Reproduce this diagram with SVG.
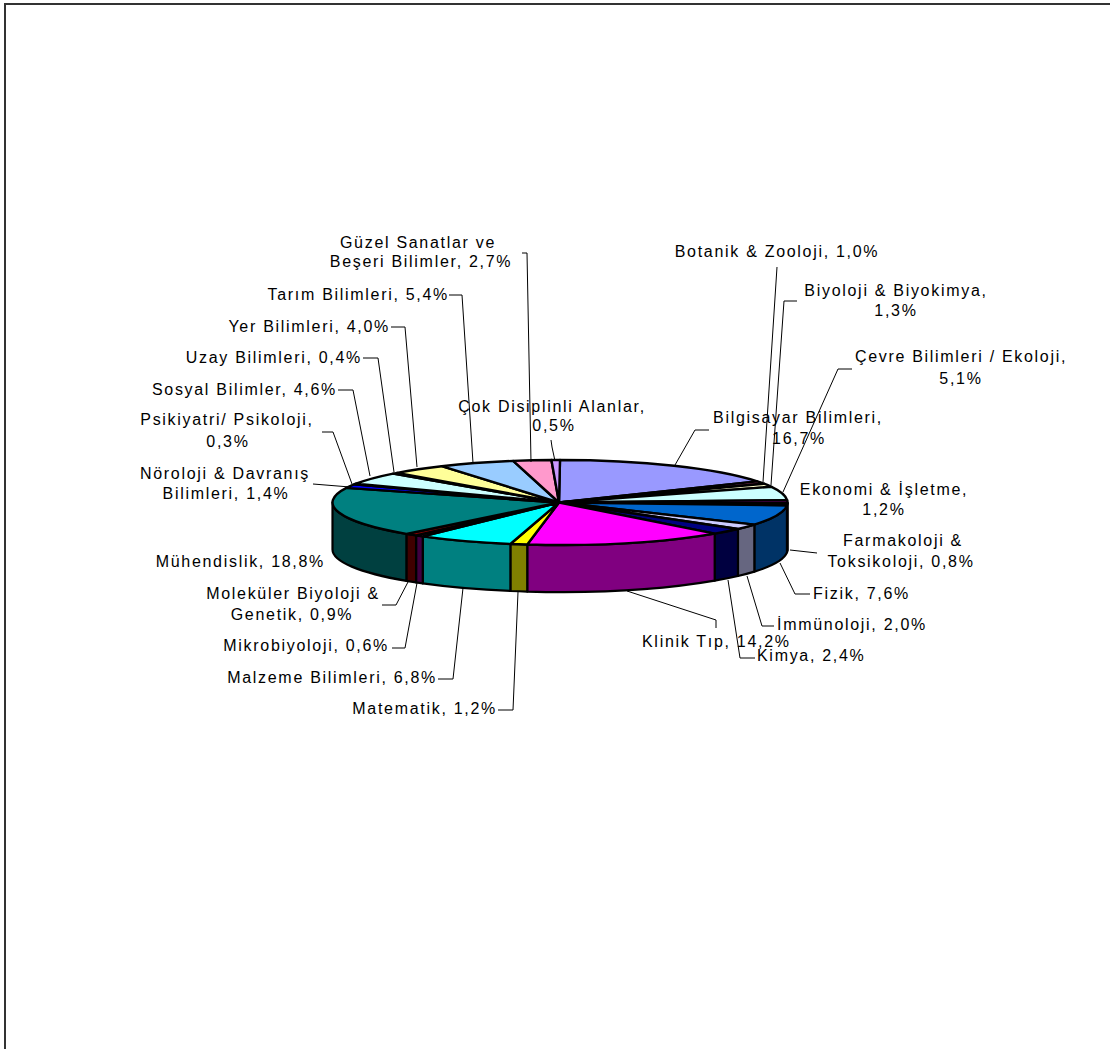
<svg xmlns="http://www.w3.org/2000/svg" width="1110" height="1049" viewBox="0 0 1110 1049">
<style>
.top{stroke:#000;stroke-width:2.4;stroke-linejoin:round}
.side{stroke:#000;stroke-width:2.2;stroke-linejoin:round}
text{font-family:"Liberation Sans",Arial,sans-serif;font-size:16px;letter-spacing:1.7px;fill:#000}
.m{text-anchor:middle}
.e{text-anchor:end}
.ld{fill:none;stroke:#000;stroke-width:1}
</style>
<rect width="1110" height="1049" fill="#fff"/>
<path d="M5 1049 V4 H1110" fill="none" stroke="#333" stroke-width="2"/>

<g id="sides">
<path class="side" fill="#330033" d="M787.5 502.5 A227.5 42.5 0 0 1 787.46 503.3 L787.46 550.3 A227.5 42.5 0 0 0 787.5 549.5 Z"/>
<path class="side" fill="#804040" d="M787.46 503.3 A227.5 42.5 0 0 1 786.96 505.44 L786.96 552.44 A227.5 42.5 0 0 0 787.46 550.3 Z"/>
<path class="side" fill="#003366" d="M786.96 505.44 A227.5 42.5 0 0 1 754.35 524.6 L754.35 571.6 A227.5 42.5 0 0 0 786.96 552.44 Z"/>
<path class="side" fill="#666680" d="M754.35 524.6 A227.5 42.5 0 0 1 737.95 528.98 L737.95 575.98 A227.5 42.5 0 0 0 754.35 571.6 Z"/>
<path class="side" fill="#000040" d="M737.95 528.98 A227.5 42.5 0 0 1 714.68 533.67 L714.68 580.67 A227.5 42.5 0 0 0 737.95 575.98 Z"/>
<path class="side" fill="#800080" d="M714.68 533.67 A227.5 42.5 0 0 1 527.24 544.56 L527.24 591.56 A227.5 42.5 0 0 0 714.68 580.67 Z"/>
<path class="side" fill="#808000" d="M527.24 544.56 A227.5 42.5 0 0 1 510.38 543.98 L510.38 590.98 A227.5 42.5 0 0 0 527.24 591.56 Z"/>
<path class="side" fill="#008080" d="M510.38 543.98 A227.5 42.5 0 0 1 422.77 536.4 L422.77 583.4 A227.5 42.5 0 0 0 510.38 590.98 Z"/>
<path class="side" fill="#400040" d="M422.77 536.4 A227.5 42.5 0 0 1 416.08 535.41 L416.08 582.41 A227.5 42.5 0 0 0 422.77 583.4 Z"/>
<path class="side" fill="#400000" d="M416.08 535.41 A227.5 42.5 0 0 1 406.37 533.85 L406.37 580.85 A227.5 42.5 0 0 0 416.08 582.41 Z"/>
<path class="side" fill="#004040" d="M406.37 533.85 A227.5 42.5 0 0 1 332.5 502.5 L332.5 549.5 A227.5 42.5 0 0 0 406.37 580.85 Z"/>
</g>

<g id="bilgisayar"><path class="top" fill="#9999FF" d="M559 502.5 L560 460 A227.5 42.5 0 0 1 757.27 481.33 Z"/>
<text class="m" x="798" y="423">Bilgisayar Bilimleri,</text><text class="m" x="799" y="444">16,7%</text></g>
<g id="botanik"><path class="top" fill="#993366" d="M559 502.5 L757.27 481.33 A227.5 42.5 0 0 1 763.98 483.68 Z"/>
<text class="m" x="777" y="257">Botanik &amp; Zooloji, 1,0%</text></g>
<g id="biyoloji"><path class="top" fill="#FFFFCC" d="M559 502.5 L763.98 483.68 A227.5 42.5 0 0 1 771.53 486.86 Z"/>
<text class="m" x="896" y="296">Biyoloji &amp; Biyokimya,</text><text class="m" x="896" y="316">1,3%</text></g>
<g id="cevre"><path class="top" fill="#CCFFFF" d="M559 502.5 L771.53 486.86 A227.5 42.5 0 0 1 787.14 500.1 Z"/>
<text class="m" x="961" y="362">Çevre Bilimleri / Ekoloji,</text><text class="m" x="961" y="384">5,1%</text></g>
<g id="ekonomi"><path class="top" fill="#660066" d="M559 502.5 L787.14 500.1 A227.5 42.5 0 0 1 787.46 503.3 Z"/>
<text class="m" x="884" y="495">Ekonomi &amp; İşletme,</text><text class="m" x="884" y="515">1,2%</text></g>
<g id="farmakoloji"><path class="top" fill="#FF8080" d="M559 502.5 L787.46 503.3 A227.5 42.5 0 0 1 786.96 505.44 Z"/>
<text class="m" x="903" y="546">Farmakoloji &amp;</text><text class="m" x="901" y="567">Toksikoloji, 0,8%</text></g>
<g id="fizik"><path class="top" fill="#0066CC" d="M559 502.5 L786.96 505.44 A227.5 42.5 0 0 1 754.35 524.6 Z"/>
<text x="813" y="599">Fizik, 7,6%</text></g>
<g id="immunoloji"><path class="top" fill="#CCCCFF" d="M559 502.5 L754.35 524.6 A227.5 42.5 0 0 1 737.95 528.98 Z"/>
<text x="777" y="630">İmmünoloji, 2,0%</text></g>
<g id="kimya"><path class="top" fill="#000080" d="M559 502.5 L737.95 528.98 A227.5 42.5 0 0 1 714.68 533.67 Z"/>
<text x="757" y="661">Kimya, 2,4%</text></g>
<g id="klinik"><path class="top" fill="#FF00FF" d="M559 502.5 L714.68 533.67 A227.5 42.5 0 0 1 527.24 544.56 Z"/>
<text x="642" y="647">Klinik Tıp, 14,2%</text></g>
<g id="matematik"><path class="top" fill="#FFFF00" d="M559 502.5 L527.24 544.56 A227.5 42.5 0 0 1 510.38 543.98 Z"/>
<text class="e" x="497" y="714">Matematik, 1,2%</text></g>
<g id="malzeme"><path class="top" fill="#00FFFF" d="M559 502.5 L510.38 543.98 A227.5 42.5 0 0 1 422.77 536.4 Z"/>
<text class="e" x="437" y="683">Malzeme Bilimleri, 6,8%</text></g>
<g id="mikrobiyoloji"><path class="top" fill="#800080" d="M559 502.5 L422.77 536.4 A227.5 42.5 0 0 1 416.08 535.41 Z"/>
<text class="e" x="389" y="651">Mikrobiyoloji, 0,6%</text></g>
<g id="molekuler"><path class="top" fill="#800000" d="M559 502.5 L416.08 535.41 A227.5 42.5 0 0 1 406.37 533.85 Z"/>
<text class="m" x="293" y="599">Moleküler Biyoloji &amp;</text><text class="m" x="292" y="620">Genetik, 0,9%</text></g>
<g id="muhendislik"><path class="top" fill="#008080" d="M559 502.5 L406.37 533.85 A227.5 42.5 0 0 1 346.45 487.85 Z"/>
<text class="e" x="325" y="567">Mühendislik, 18,8%</text></g>
<g id="noroloji"><path class="top" fill="#0000FF" d="M559 502.5 L346.45 487.85 A227.5 42.5 0 0 1 354.16 484.4 Z"/>
<text class="m" x="225" y="479">Nöroloji &amp; Davranış</text><text class="m" x="226" y="499">Bilimleri, 1,4%</text></g>
<g id="psikiyatri"><path class="top" fill="#00CCFF" d="M559 502.5 L354.16 484.4 A227.5 42.5 0 0 1 355.99 483.68 Z"/>
<text class="m" x="227" y="425">Psikiyatri/ Psikoloji,</text><text class="m" x="228" y="447">0,3%</text></g>
<g id="sosyal"><path class="top" fill="#CCFFFF" d="M559 502.5 L355.99 483.68 A227.5 42.5 0 0 1 393.17 473.6 Z"/>
<text class="e" x="337" y="395">Sosyal Bilimler, 4,6%</text></g>
<g id="uzay"><path class="top" fill="#CCFFCC" d="M559 502.5 L393.17 473.6 A227.5 42.5 0 0 1 397.11 472.83 Z"/>
<text class="e" x="362" y="363">Uzay Bilimleri, 0,4%</text></g>
<g id="yer"><path class="top" fill="#FFFF99" d="M559 502.5 L397.11 472.83 A227.5 42.5 0 0 1 441.72 466.2 Z"/>
<text class="e" x="390" y="332">Yer Bilimleri, 4,0%</text></g>
<g id="tarim"><path class="top" fill="#99CCFF" d="M559 502.5 L441.72 466.2 A227.5 42.5 0 0 1 513.16 460.91 Z"/>
<text class="e" x="449" y="300">Tarım Bilimleri, 5,4%</text></g>
<g id="guzel"><path class="top" fill="#FF99CC" d="M559 502.5 L513.16 460.91 A227.5 42.5 0 0 1 551.42 460.03 Z"/>
<text class="m" x="418" y="248">Güzel Sanatlar ve</text><text class="m" x="421" y="267">Beşeri Bilimler, 2,7%</text></g>
<g id="cok"><path class="top" fill="#CC99FF" d="M559 502.5 L551.42 460.03 A227.5 42.5 0 0 1 560 460 Z"/>
<text class="m" x="552" y="412">Çok Disiplinli Alanlar,</text><text class="m" x="554" y="431">0,5%</text></g>

<g id="connectors">
<polyline class="ld" points="522,253 527,253 531,462"/>
<polyline class="ld" points="449,295 462,295 473,463"/>
<polyline class="ld" points="391,327 405,327 417,467"/>
<polyline class="ld" points="363,358 378,358 394,472"/>
<polyline class="ld" points="338,390 353,390 370,476"/>
<polyline class="ld" points="322,432 333,432 352,484"/>
<polyline class="ld" points="313,484 350,487"/>
<polyline class="ld" points="382,605 396,605 408,582"/>
<polyline class="ld" points="392,648 405,648 417,583"/>
<polyline class="ld" points="438,679 453,679 463,588"/>
<polyline class="ld" points="498,710 513,710 518,592"/>
<polyline class="ld" points="716,628 716,620 627,591"/>
<polyline class="ld" points="755,658 740,658 728,580"/>
<polyline class="ld" points="774,626 762,626 747,576"/>
<polyline class="ld" points="810,594 795,594 780,563"/>
<polyline class="ld" points="817,553 790,550"/>
<polyline class="ld" points="852,369 838,369 783,492"/>
<polyline class="ld" points="797,301 784,301 771,485"/>
<polyline class="ld" points="777,267 763,482"/>
<polyline class="ld" points="709,430 695,430 675,465"/>
<polyline class="ld" points="551,440 552,447 555,461"/>
</g>
</svg>
